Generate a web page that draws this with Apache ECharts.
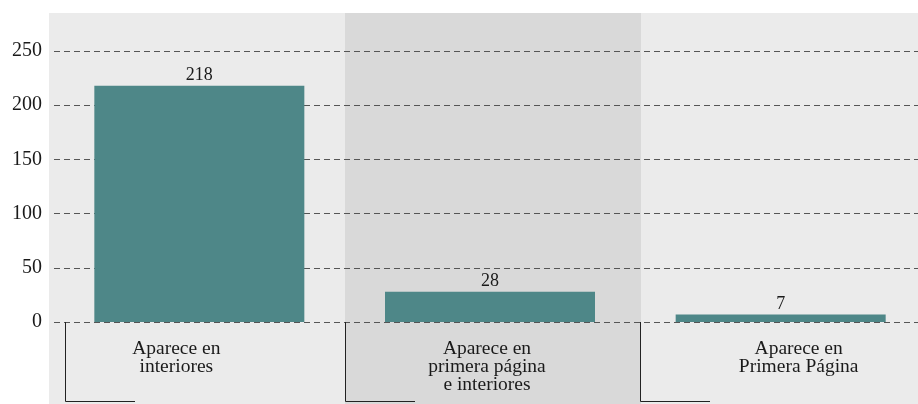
<!DOCTYPE html>
<html><head><meta charset="utf-8">
<script src="https://cdn.jsdelivr.net/npm/echarts@6/dist/echarts.min.js"></script>
<style>html,body{margin:0;padding:0;background:#fff}#c{width:918px;height:404px}</style>
</head><body><div id="c"></div>
<script>
const categories = ['Aparece en\ninteriores', 'Aparece en\nprimera página\ne interiores', 'Aparece en\nPrimera Página'];
const values = [218, 28, 7];
const yTicks = { min: 0, max: 250, interval: 50 };

const FONT = '"Liberation Serif", "DejaVu Serif", serif';
const LBL = 19.5;
const chart = echarts.init(document.getElementById('c'));
chart.setOption({
  backgroundColor: '#ffffff',
  animation: false,
  graphic: [
    { type: 'rect', z: -10, shape: { x: 49, y: 13, width: 869, height: 391 }, style: { fill: '#ebebeb' }, silent: true },
    { type: 'rect', z: -9, shape: { x: 345, y: 13, width: 296, height: 391 }, style: { fill: '#d9d9d9' }, silent: true },
    { type: 'polyline', z: 5, shape: { points: [[65.5, 322], [65.5, 401.5], [135, 401.5]] }, style: { stroke: '#222', lineWidth: 1, fill: null } },
    { type: 'polyline', z: 5, shape: { points: [[345.5, 322], [345.5, 401.5], [415, 401.5]] }, style: { stroke: '#222', lineWidth: 1, fill: null } },
    { type: 'polyline', z: 5, shape: { points: [[640.5, 322], [640.5, 401.5], [710, 401.5]] }, style: { stroke: '#222', lineWidth: 1, fill: null } }
  ],
  grid: { left: 54, width: 872, top: 51, bottom: 82, containLabel: false, outerBoundsMode: 'none' },
  xAxis: {
    type: 'category',
    data: categories,
    axisLine: { show: false },
    axisTick: { show: false },
    axisLabel: {
      color: '#1a1a1a', fontFamily: FONT, fontSize: LBL, lineHeight: 18, margin: 18,
      interval: 0,
      formatter: function (v, i) { return v.split('\n').map(function (l) { return '{c' + i + '|' + l + '}'; }).join('\n'); },
      rich: {
        c0: { fontFamily: FONT, fontSize: LBL, lineHeight: 18, color: '#1a1a1a', padding: [0, 46, 0, 0] },
        c1: { fontFamily: FONT, fontSize: LBL, lineHeight: 18, color: '#1a1a1a', padding: [0, 6, 0, 0] },
        c2: { fontFamily: FONT, fontSize: LBL, lineHeight: 18, color: '#1a1a1a', padding: [0, 0, 0, 36] }
      }
    }
  },
  yAxis: {
    type: 'value',
    min: yTicks.min, max: yTicks.max, interval: yTicks.interval,
    axisLine: { show: false },
    axisTick: { show: false },
    axisLabel: { color: '#1a1a1a', fontFamily: FONT, fontSize: 20, margin: 12 },
    splitLine: { show: true, lineStyle: { color: '#555', width: 1, type: [6, 4] } }
  },
  series: [{
    type: 'bar',
    data: values,
    barWidth: 210,
    itemStyle: { color: '#4e8788' },
    label: { show: true, position: 'top', distance: 1, color: '#1a1a1a', fontFamily: FONT, fontSize: 18 }
  }]
});
</script></body></html>
